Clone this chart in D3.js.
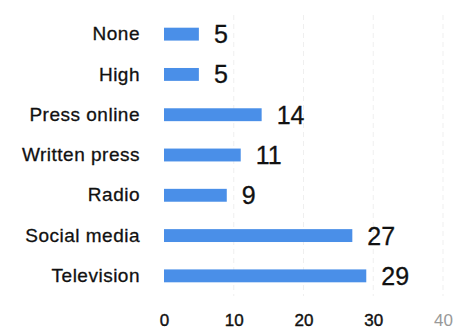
<!DOCTYPE html>
<html><head><meta charset="utf-8">
<script src="https://cdn.jsdelivr.net/npm/d3@7"></script>
<style>body{margin:0;background:#fff}svg{display:block}</style>
</head><body>
<svg id="c" width="459" height="334"></svg>
<script>
const categories = ["None","High","Press online","Written press","Radio","Social media","Television"];
const values = [5,5,14,11,9,27,29];
const tickValues = [0,10,20,30,40];

const svg = d3.select("#c");
const x = d3.scaleLinear().domain([0,40]).range([164,443]);
const y = d3.scaleBand().domain(categories).range([14,296]).paddingInner(0.68).paddingOuter(0.34);

// gridlines
svg.append("g").selectAll("line").data(tickValues.slice(1)).join("line")
  .attr("x1",d=>x(d)).attr("x2",d=>x(d)).attr("y1",15).attr("y2",296)
  .attr("stroke","#efefef").attr("stroke-width",1).attr("stroke-dasharray","5,4");

svg.append("g").selectAll("rect").data(values).join("rect")
  .attr("x",x(0)).attr("y",(d,i)=>y(categories[i]))
  .attr("width",d=>x(d)-x(0)).attr("height",y.bandwidth())
  .attr("fill","#4a8fe8");

svg.append("g").selectAll("text").data(values).join("text")
  .attr("x",d=>x(d)+15).attr("y",(d,i)=>y(categories[i])+y.bandwidth()/2)
  .attr("dy","0.36em")
  .attr("font-family","Liberation Sans, Arial, sans-serif").attr("font-size",25)
  .attr("fill","#111").attr("stroke","#111").attr("stroke-width",0.3).text(d=>d);

const yAxis = d3.axisLeft(y).tickSize(0).tickPadding(0);
const gy = svg.append("g").attr("transform","translate(140,0)").call(yAxis);
gy.select(".domain").remove();
gy.selectAll("text").attr("font-family","Liberation Sans, Arial, sans-serif").attr("font-size",19)
  .attr("fill","#111").attr("stroke","#111").attr("stroke-width",0.3).attr("letter-spacing","0.5");

const xAxis = d3.axisBottom(x).tickValues(tickValues).tickSize(0).tickPadding(0);
const gx = svg.append("g").attr("transform","translate(0,314)").call(xAxis);
gx.select(".domain").remove();
gx.selectAll("text").attr("font-family","Liberation Sans, Arial, sans-serif").attr("font-size",17)
  .attr("fill",d=>d===40?"#999":"#111")
  .attr("stroke",d=>d===40?"none":"#111").attr("stroke-width",0.4);
</script>
</body></html>
